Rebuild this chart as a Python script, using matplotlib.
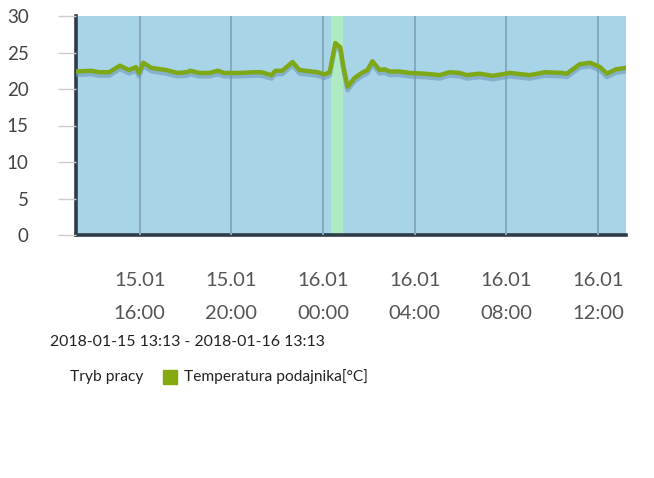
import matplotlib
matplotlib.use("Agg")
import matplotlib.pyplot as plt
import matplotlib.dates as mdates
import matplotlib.patheffects as pe
from matplotlib.patches import Rectangle
from datetime import datetime

plt.rcParams['font.family'] = ['Lato', 'DejaVu Sans']

# readings of "Temperatura podajnika" (time, degC)
times = ["2018-01-15 13:13", "2018-01-15 13:52", "2018-01-15 14:13", "2018-01-15 14:40",
         "2018-01-15 15:08", "2018-01-15 15:32", "2018-01-15 15:50", "2018-01-15 15:58",
         "2018-01-15 16:09", "2018-01-15 16:30", "2018-01-15 17:09", "2018-01-15 17:38",
         "2018-01-15 18:04", "2018-01-15 18:12", "2018-01-15 18:36", "2018-01-15 19:02",
         "2018-01-15 19:25", "2018-01-15 19:41", "2018-01-15 20:21", "2018-01-15 21:00",
         "2018-01-15 21:18", "2018-01-15 21:45", "2018-01-15 21:55", "2018-01-15 22:13",
         "2018-01-15 22:40", "2018-01-15 22:58", "2018-01-15 23:45", "2018-01-16 00:04",
         "2018-01-16 00:17", "2018-01-16 00:32", "2018-01-16 00:45", "2018-01-16 00:53",
         "2018-01-16 01:04", "2018-01-16 01:22", "2018-01-16 01:41", "2018-01-16 01:56",
         "2018-01-16 02:09", "2018-01-16 02:28", "2018-01-16 02:41", "2018-01-16 02:54",
         "2018-01-16 03:20", "2018-01-16 03:46", "2018-01-16 04:26", "2018-01-16 05:05",
         "2018-01-16 05:31", "2018-01-16 05:58", "2018-01-16 06:16", "2018-01-16 06:50",
         "2018-01-16 07:24", "2018-01-16 08:09", "2018-01-16 09:01", "2018-01-16 09:41",
         "2018-01-16 10:25", "2018-01-16 10:38", "2018-01-16 11:12", "2018-01-16 11:39",
         "2018-01-16 12:05", "2018-01-16 12:23", "2018-01-16 12:47", "2018-01-16 13:13"]
temps = [22.4, 22.5, 22.3, 22.3, 23.2, 22.6, 23.0, 22.2,
         23.6, 22.9, 22.6, 22.2, 22.3, 22.5, 22.2, 22.2,
         22.5, 22.2, 22.2, 22.3, 22.3, 21.9, 22.5, 22.5,
         23.7, 22.6, 22.3, 22.0, 22.3, 26.3, 25.7, 23.1,
         20.3, 21.5, 22.2, 22.6, 23.8, 22.6, 22.7, 22.4,
         22.4, 22.2, 22.1, 21.9, 22.3, 22.2, 21.9, 22.1,
         21.8, 22.2, 21.9, 22.3, 22.2, 22.1, 23.4, 23.6,
         23.0, 22.1, 22.7, 22.9]

# "Tryb pracy" active period
mode_start = "2018-01-16 00:20"
mode_end = "2018-01-16 00:53"

range_start = "2018-01-15 13:13"
range_end = "2018-01-16 13:13"

fmt = "%Y-%m-%d %H:%M"
x = [datetime.strptime(t, fmt) for t in times]
t0 = datetime.strptime(range_start, fmt)
t1 = datetime.strptime(range_end, fmt)

fig = plt.figure(figsize=(6.54, 4.78), dpi=100)
ax = fig.add_axes([76 / 654, (478 - 235) / 478, 550 / 654, 219 / 478])
ax.set_facecolor('#a8d4e8')

ax.axvspan(datetime.strptime(mode_start, fmt), datetime.strptime(mode_end, fmt),
           color='#aeeac2', lw=0, zorder=1)

line, = ax.plot(x, temps, color='#7fa817', lw=3.2, zorder=3, solid_joinstyle='round')
line.set_path_effects([pe.SimpleLineShadow(offset=(0, -2.5), shadow_color='#6d98b8', alpha=0.6),
                       pe.Normal()])

ax.set_xlim(t0, t1)
ax.set_ylim(0, 30)
ax.set_yticks(range(0, 31, 5))

ax.xaxis.set_major_locator(mdates.HourLocator(byhour=[0, 4, 8, 12, 16, 20]))
ax.xaxis.set_major_formatter(mdates.DateFormatter('%d.%m\n%H:%M'))
ax.grid(axis='x', color='#86a8bf', lw=1.4, zorder=2)
ax.set_axisbelow(False)

ax.tick_params(axis='x', length=0, pad=27, labelsize=14.5, labelcolor='#555555')
ax.tick_params(axis='y', length=13, width=1, color='#cccccc', pad=21,
               labelsize=13.5, labelcolor='#444444')
for lab in ax.get_xticklabels():
    lab.set_linespacing(2.08)

for s in ['top', 'right']:
    ax.spines[s].set_visible(False)
for s in ['left', 'bottom']:
    ax.spines[s].set_color('#2d3c46')
    ax.spines[s].set_linewidth(2.6)

fig.text(50 / 654, 1 - 342 / 478, "%s - %s" % (range_start, range_end),
         fontsize=11.4, color='#222222', va='center', ha='left')

fig.text(70 / 654, 1 - 377 / 478, "Tryb pracy", fontsize=11.2, color='#222222',
         va='center', ha='left')
fig.patches.append(Rectangle((163 / 654, 1 - 384 / 478), 14 / 654, 14 / 478,
                             transform=fig.transFigure, color='#85a80f'))
fig.text(184 / 654, 1 - 377 / 478, "Temperatura podajnika[°C]", fontsize=11.2,
         color='#222222', va='center', ha='left')

fig.savefig('out.png', dpi=100)
